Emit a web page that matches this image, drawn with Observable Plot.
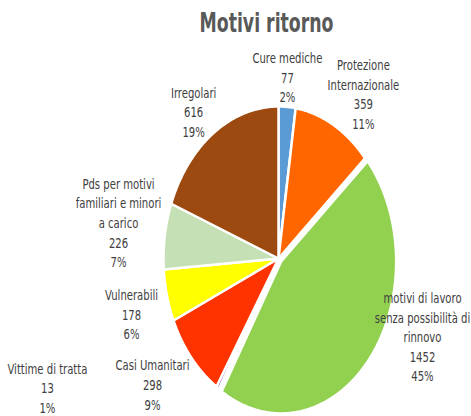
<!DOCTYPE html>
<html><head><meta charset="utf-8">
<script src="https://cdn.jsdelivr.net/npm/d3@7"></script>
<script src="https://cdn.jsdelivr.net/npm/@observablehq/plot@0.6"></script>
<style>
body{margin:0;background:#fff;}
#title{width:471px;height:40px;box-sizing:border-box;padding-left:62px;padding-top:6px;text-align:center;font-weight:bold;font-size:26px;font-family:"Liberation Sans Narrow","DejaVu Sans Condensed",sans-serif;color:#595959;line-height:34px;}
#title span{display:inline-block;transform:scaleX(0.74);transform-origin:50% 50%;}
</style></head><body>
<div id="title"><span>Motivi ritorno</span></div>
<div id="chart"></div>
<script>
// data
const categories = ["Cure mediche","Protezione\nInternazionale","motivi di lavoro\nsenza possibilità di\nrinnovo","Vittime di tratta","Casi Umanitari","Vulnerabili","Pds per motivi\nfamiliari e minori\na carico","Irregolari"];
const values = [77, 359, 1452, 13, 298, 178, 226, 616];
const percentLabels = ["2%", "11%", "45%", "1%", "9%", "6%", "7%", "19%"];
// styles
const colors = ["#5B9BD5", "#FF6600", "#92D050", "#7030A0", "#FF3300", "#FFFF00", "#C5E0B4", "#9C4A10"];
// label layout (angle shift in degrees, radius as fraction of pie radius)
const labelAngleShift = [-0.6, 5.5, -17.8, 35.3, 3.8, -1.7, 1.4, -2.8];
const labelRadius = [1.2, 1.314, 1.352, 2.18, 1.37, 1.328, 1.412, 1.219];
const explode = [0, 0, 0.03, 0, 0, 0, 0, 0];

const arcs = d3.pie().sort(null).value(d => d)(values);
const slicePoints = [];
const labels = [];
arcs.forEach((a, i) => {
  const mid = (a.startAngle + a.endAngle) / 2;
  const ox = explode[i] * Math.sin(mid), oy = -explode[i] * Math.cos(mid);
  slicePoints.push({name: categories[i], color: colors[i], x: ox, y: oy});
  const n = Math.max(2, Math.ceil((a.endAngle - a.startAngle) / 0.01));
  for (let k = 0; k <= n; k++) {
    const t = a.startAngle + (a.endAngle - a.startAngle) * k / n;
    slicePoints.push({name: categories[i], color: colors[i], x: ox + Math.sin(t), y: oy - Math.cos(t)});
  }
  slicePoints.push({name: categories[i], color: colors[i], x: ox, y: oy});
  const la = mid + labelAngleShift[i] * Math.PI / 180;
  labels.push({
    text: categories[i] + "\n" + values[i] + "\n" + percentLabels[i],
    x: labelRadius[i] * Math.sin(la),
    y: -labelRadius[i] * Math.cos(la)
  });
});

const chart = Plot.plot({
  width: 471,
  height: 376,
  margin: 0,
  x: {domain: [-1, 1], range: [163, 393], axis: null},
  y: {domain: [-1, 1], range: [66, 370], axis: null},
  color: {type: "identity"},
  style: {background: "#fff"},
  marks: [
    Plot.line(slicePoints, {x: "x", y: "y", z: "name", fill: "color", stroke: "white", strokeWidth: 2.5, strokeLinejoin: "round", curve: "linear"}),
    Plot.text(labels, {x: "x", y: "y", text: "text", lineAnchor: "middle", textAnchor: "middle", fontSize: 14, lineHeight: 1.4, fill: "#404040", fontFamily: "Liberation Sans Narrow, DejaVu Sans Condensed, sans-serif"})
  ]
});
// horizontally condense label text (narrow Calibri-like look)
chart.querySelectorAll('g[aria-label="text"] text').forEach(t => {
  const tr = t.getAttribute("transform") || "";
  t.setAttribute("transform", tr + " scale(0.8,1)");
});
document.getElementById("chart").appendChild(chart);
</script>
</body></html>
